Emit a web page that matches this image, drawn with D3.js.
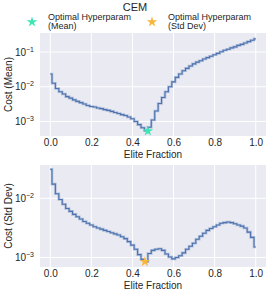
<!DOCTYPE html>
<html>
<head>
<meta charset="utf-8">
<script src="https://cdn.jsdelivr.net/npm/d3@7"></script>
<style>
  body { margin: 0; background: #fff; }
  svg { display: block; font-family: "Liberation Sans", Arial, sans-serif; }
  .tick text { fill: #262626; font-size: 10px; }
</style>
</head>
<body>
<div id="chart"></div>
<script>
// elite fraction samples (k / 60)
const fractions = d3.range(61).map(k => k / 60);

const costMean = [
  0.0234, 0.0126, 0.0089, 0.0072, 0.0062, 0.0052, 0.0047, 0.0042, 0.0038, 0.0035,
  0.0032, 0.0029, 0.0027, 0.0026, 0.00245, 0.00234, 0.00219, 0.00209, 0.00195, 0.00182,
  0.0017, 0.00158, 0.00148, 0.00135, 0.0012, 0.0010, 0.00081, 0.00066, 0.00054, 0.00068,
  0.0011, 0.0020, 0.0033, 0.0049, 0.0072, 0.0100, 0.0138, 0.0186, 0.0234, 0.0288,
  0.0339, 0.0398, 0.0457, 0.0513, 0.0562, 0.0631, 0.0692, 0.0759, 0.0832, 0.0912,
  0.102, 0.112, 0.120, 0.132, 0.141, 0.155, 0.166, 0.182, 0.200, 0.219,
  0.240
];

const costStd = [
  0.0309, 0.0174, 0.0120, 0.00955, 0.00794, 0.00676, 0.00603, 0.00537, 0.0049, 0.00447,
  0.00407, 0.0038, 0.00355, 0.00331, 0.00316, 0.00302, 0.00288, 0.00275, 0.00263, 0.00251,
  0.0024, 0.00224, 0.00209, 0.00186, 0.00162, 0.00138, 0.00112, 0.00093, 0.00085, 0.00117,
  0.00132, 0.00138, 0.00141, 0.00132, 0.00115, 0.00102, 0.00095, 0.0010, 0.00107, 0.0012,
  0.00138, 0.00155, 0.00174, 0.00204, 0.00229, 0.00257, 0.00288, 0.00309, 0.00331, 0.00355,
  0.0038, 0.00389, 0.00398, 0.00389, 0.00372, 0.00355, 0.00339, 0.00316, 0.00269, 0.00219,
  0.00151
];

const bestMean = { x: 0.475, y: 0.00053 };
const bestStd = { x: 0.46, y: 0.00085 };

const xTicks = [0, 0.2, 0.4, 0.6, 0.8, 1.0];
const meanTicks = [1e-3, 1e-2, 1e-1];
const stdTicks = [1e-3, 1e-2];

const width = 270, height = 296;
const lineColor = '#4c72b0';
const meanColor = '#3de6b4';
const stdColor = '#f7b73c';

const svg = d3.select('#chart').append('svg')
  .attr('width', width)
  .attr('height', height);

svg.append('text')
  .attr('x', 135).attr('y', 11)
  .attr('text-anchor', 'middle')
  .style('font-size', '11px')
  .attr('fill', '#262626')
  .text('CEM');

const star = d3.symbol().type(d3.symbolStar).size(34);

// legend
const legend = [
  { label: '(Mean)', color: meanColor, x: 32 },
  { label: '(Std Dev)', color: stdColor, x: 152 }
];
legend.forEach(l => {
  svg.append('path')
    .attr('d', star)
    .attr('transform', `translate(${l.x}, 22)`)
    .attr('fill', l.color);
  const t = svg.append('text')
    .attr('x', l.x + 16).attr('y', 20)
    .style('font-size', '9px')
    .attr('fill', '#262626');
  t.append('tspan').attr('x', l.x + 16).text('Optimal Hyperparam');
  t.append('tspan').attr('x', l.x + 16).attr('dy', 9).text(l.label);
});

const x = d3.scaleLinear().domain([-0.05, 1.05]).range([40, 266]);

function panel(top, bottom, yDomain, ticks, values, best, bestColor, yLabel) {
  const y = d3.scaleLog().domain(yDomain).range([bottom, top]);
  const g = svg.append('g');

  g.append('rect')
    .attr('x', 40).attr('y', top)
    .attr('width', 226).attr('height', bottom - top)
    .attr('fill', '#eaeaf2');

  g.selectAll('.vgrid').data(xTicks).join('line')
    .attr('x1', d => x(d)).attr('x2', d => x(d))
    .attr('y1', top).attr('y2', bottom)
    .attr('stroke', '#fff').attr('stroke-width', 1);
  g.selectAll('.hgrid').data(ticks).join('line')
    .attr('x1', 40).attr('x2', 266)
    .attr('y1', d => y(d)).attr('y2', d => y(d))
    .attr('stroke', '#fff').attr('stroke-width', 1);

  const xAxis = g.append('g')
    .attr('transform', `translate(0, ${bottom})`)
    .call(d3.axisBottom(x).tickValues(xTicks).tickSize(0).tickPadding(3).tickFormat(d3.format('.1f')));
  xAxis.select('.domain').remove();

  const yAxis = g.append('g')
    .attr('transform', 'translate(40, 0)')
    .call(d3.axisLeft(y).tickValues(ticks).tickSize(0).tickPadding(6).tickFormat(''));
  yAxis.select('.domain').remove();
  yAxis.selectAll('.tick text').each(function(d) {
    const t = d3.select(this);
    t.append('tspan').text('10');
    t.append('tspan')
      .attr('dy', -4)
      .style('font-size', '7px')
      .text('\u2212' + Math.round(-Math.log10(d)));
  });

  g.append('text')
    .attr('x', 153).attr('y', bottom + 22)
    .attr('text-anchor', 'middle')
    .style('font-size', '10px')
    .attr('fill', '#262626')
    .text('Elite Fraction');

  g.append('text')
    .attr('transform', `translate(12, ${(top + bottom) / 2}) rotate(-90)`)
    .attr('text-anchor', 'middle')
    .style('font-size', '10px')
    .attr('fill', '#262626')
    .text(yLabel);

  const line = d3.line()
    .x((d, i) => x(fractions[i]))
    .y(d => y(d))
    .curve(d3.curveStep);

  g.append('path')
    .datum(values)
    .attr('fill', 'none')
    .attr('stroke', lineColor)
    .attr('stroke-opacity', 0.35)
    .attr('stroke-width', 2.6)
    .attr('d', line);
  g.append('path')
    .datum(values)
    .attr('fill', 'none')
    .attr('stroke', lineColor)
    .attr('stroke-width', 1.1)
    .attr('d', line);

  g.append('path')
    .attr('d', star)
    .attr('transform', `translate(${x(best.x)}, ${y(best.y)})`)
    .attr('fill', bestColor);
}

panel(33, 136, [Math.pow(10, -3.418), Math.pow(10, -0.452)], meanTicks, costMean, bestMean, meanColor, 'Cost (Mean)');
panel(165, 267, [Math.pow(10, -3.16), Math.pow(10, -1.436)], stdTicks, costStd, bestStd, stdColor, 'Cost (Std Dev)');
</script>
</body>
</html>
